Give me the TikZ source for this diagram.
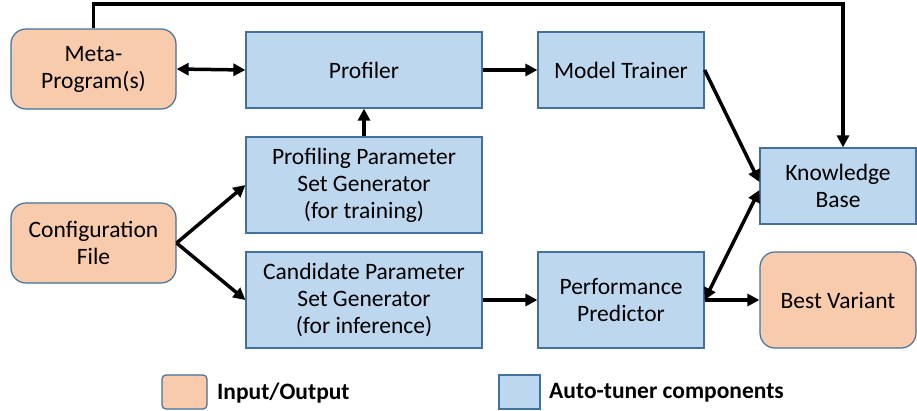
\documentclass[tikz,border=0pt]{standalone}
\usepackage{fontspec}
\setmainfont{Carlito}
\usetikzlibrary{arrows.meta}
\definecolor{ioFill}{HTML}{F8CBAD}
\definecolor{atFill}{HTML}{BDD7EE}
\definecolor{bdr}{HTML}{41719C}
\begin{document}
\begin{tikzpicture}[x=1pt,y=-1pt,
  box/.style={draw=bdr,line width=1.2pt,align=center,inner sep=0pt,
    font=\fontsize{23.5}{27}\selectfont},
  iobox/.style={box,fill=ioFill,rounded corners=15pt},
  atbox/.style={box,fill=atFill},
  conn/.style={line width=3.5pt,-{Triangle[length=12pt,width=12pt]}},
  dconn/.style={line width=3.5pt,{Triangle[length=12pt,width=12pt]}-{Triangle[length=12pt,width=12pt]}},
  legtext/.style={anchor=west,font=\fontsize{23.5}{27}\selectfont\bfseries,inner sep=0pt}]
\useasboundingbox (0,0) rectangle (917,410);
\node[iobox,minimum width=165,minimum height=80] (meta) at (93.5,69) {Meta-\\Program(s)};
\node[atbox,minimum width=236,minimum height=76] (prof) at (364,70) {Profiler};
\node[atbox,minimum width=166,minimum height=76] (mt) at (621,70) {Model Trainer};
\node[atbox,minimum width=236,minimum height=96] (pgen) at (364,185) {Profiling Parameter\\Set Generator\\(for training)};
\node[iobox,minimum width=165,minimum height=80] (cfg) at (93.5,243) {Configuration\\File};
\node[atbox,minimum width=236,minimum height=96] (cgen) at (364,300) {Candidate Parameter\\Set Generator\\(for inference)};
\node[atbox,minimum width=166,minimum height=96] (pred) at (621,300) {Performance\\Predictor};
\node[atbox,minimum width=156,minimum height=76] (kb) at (838,186) {Knowledge\\Base};
\node[iobox,minimum width=156,minimum height=96] (best) at (838,300) {Best Variant};
% legend
\node[box,fill=ioFill,rounded corners=4pt,minimum width=45,minimum height=34] (legio) at (184.5,392) {};
\node[legtext] (legiot) at (217,393) {Input/Output};
\node[box,fill=atFill,minimum width=41,minimum height=34] (legat) at (519.5,392) {};
\node[legtext] (legatt) at (549,393) {Auto-tuner components};
% connectors
\draw[dconn] (meta.east) -- (prof.west);
\draw[conn] (prof.east) -- (mt.west);
\draw[conn] (pgen.north) -- (prof.south);
\draw[conn] (cfg.east) -- (pgen.west);
\draw[conn] (cfg.east) -- (cgen.west);
\draw[conn] (cgen.east) -- (pred.west);
\draw[conn] (pred.east) -- (best.west);
\draw[conn] (mt.east) -- ([yshift=4pt]kb.west);
\draw[dconn] (pred.east) -- ([yshift=-4pt]kb.west);
\coordinate (tl) at (93.5,4);
\coordinate (tr) at (843,4);
\draw[conn,line join=miter] (meta.north) -- (tl) -- (tr) -- (tr |- kb.north);
\end{tikzpicture}
\end{document}
